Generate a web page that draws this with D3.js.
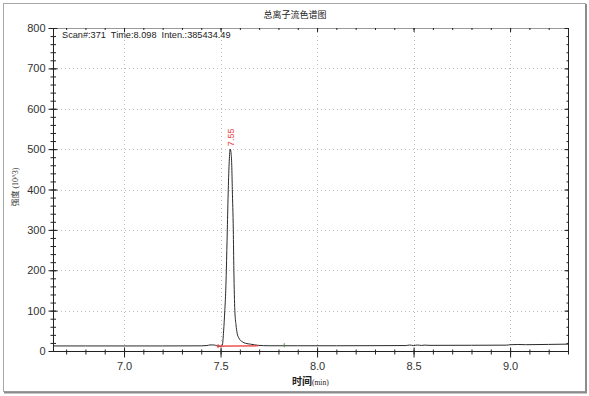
<!DOCTYPE html>
<html lang="zh">
<head>
<meta charset="utf-8">
<title>总离子流色谱图</title>
<script src="https://cdn.jsdelivr.net/npm/d3@7"></script>
<style>
    body {
        margin: 0;
        background: #ffffff;
    }
    svg text {
        font-family: Arial, "Liberation Sans", sans-serif;
        fill: #333;
    }
    .cjk {
        font-family: "Noto Sans CJK SC", sans-serif;
    }
</style>
</head>
<body>
<svg id="canvas" width="589" height="396"></svg>
<script>
    // chromatogram: time (min) and intensity (10^3)
    const times = [6.632, 6.8, 7.0, 7.2, 7.4, 7.43, 7.445, 7.46, 7.475, 7.487, 7.50, 7.509,
        7.516, 7.522, 7.527, 7.530, 7.535, 7.540, 7.545, 7.550, 7.554, 7.558, 7.561, 7.566,
        7.569, 7.574, 7.580, 7.586, 7.595, 7.612, 7.63, 7.655, 7.695, 7.75, 7.9, 8.1, 8.3,
        8.46, 8.48, 8.50, 8.52, 8.54, 8.56, 8.58, 8.8, 8.98, 9.0, 9.04, 9.08, 9.2, 9.3]
    const intensity = [12.5, 12.5, 12.5, 12.5, 12.8, 13.5, 15, 15, 14, 12, 12, 14,
        50, 100, 150, 200, 300, 400, 470, 500, 492, 460, 400, 300,
        200, 100, 65, 44, 32, 23, 19, 17, 14, 13, 13, 13, 13.2,
        13.5, 14.8, 13.5, 14.8, 13.8, 14.6, 14, 14.2, 14.5, 15.5, 16.2, 15.6, 16.3, 17]

    const peakLabel = "7.55"
    const peakTime = 7.552
    const peakValue = 500
    const integration = [[7.487, 12], [7.697, 13]]   // red baseline under the peak
    const markerTime = 7.83                          // green marker

    const xDomain = [6.632, 9.30]
    const yDomain = [0, 800]
    const xMajor = [7.0, 7.5, 8.0, 8.5, 9.0]
    const xMinor = d3.range(67, 94).map(d => d / 10)
    const yMajor = [0, 100, 200, 300, 400, 500, 600, 700, 800]
    const yMinor = d3.range(0, 801, 20)

    const title = "总离子流色谱图"
    const info = "Scan#:371  Time:8.098  Inten.:385434.49"

    const svg = d3.select('#canvas')
    const pLeft = 53, pRight = 568, pTop = 28, pBottom = 351

    const x = d3.scaleLinear().domain(xDomain).range([pLeft, pRight])
    const y = d3.scaleLinear().domain(yDomain).range([pBottom, pTop])

    // outer frame with a little shadow on right / bottom
    svg.append('rect')
        .attr('x', 3.5).attr('y', 3.5).attr('width', 582).attr('height', 388)
        .attr('fill', 'none').attr('stroke', '#a8a8a8')
    svg.append('path')
        .attr('d', 'M586,4V392.5H4')
        .attr('fill', 'none').attr('stroke', '#8c8c8c').attr('stroke-width', 2)

    // dotted grid
    const grid = svg.append('g').attr('stroke', '#bdbdbd').attr('stroke-dasharray', '1,3')
    grid.selectAll('.gx').data(xMajor).join('line')
        .attr('x1', d => Math.round(x(d)) + 0.5).attr('x2', d => Math.round(x(d)) + 0.5)
        .attr('y1', pTop).attr('y2', pBottom)
    grid.selectAll('.gy').data(yMajor.filter(d => d > 0 && d < 800)).join('line')
        .attr('y1', d => Math.round(y(d)) + 0.5).attr('y2', d => Math.round(y(d)) + 0.5)
        .attr('x1', pLeft).attr('x2', pRight)

    // top border (light)
    svg.append('line').attr('x1', pLeft).attr('x2', pRight).attr('y1', pTop + 0.5).attr('y2', pTop + 0.5)
        .attr('stroke', '#9a9a9a')

    function cleanAxis(g) {
        g.select('.domain').remove()
        g.selectAll('.tick line').attr('stroke', '#222')
    }

    // bottom axis: major + minor ticks crossing the line
    const xAxisMinor = svg.append('g').attr('transform', `translate(0,${pBottom + 0.5})`)
        .call(d3.axisBottom(x).tickValues(xMinor).tickSize(3).tickFormat(''))
    xAxisMinor.call(cleanAxis)
    xAxisMinor.selectAll('.tick line').attr('y1', -2)

    const xAxis = svg.append('g').attr('transform', `translate(0,${pBottom + 0.5})`)
        .call(d3.axisBottom(x).tickValues(xMajor).tickSize(6).tickPadding(5).tickFormat(d3.format('.1f')))
    xAxis.call(cleanAxis)
    xAxis.selectAll('.tick line').attr('y1', -4)
    xAxis.selectAll('.tick text').attr('font-size', 11).attr('fill', '#333')

    // top ticks pointing down
    const xTopMinor = svg.append('g').attr('transform', `translate(0,${pTop})`)
        .call(d3.axisBottom(x).tickValues(xMinor).tickSize(2).tickFormat(''))
    xTopMinor.call(cleanAxis)
    const xTop = svg.append('g').attr('transform', `translate(0,${pTop})`)
        .call(d3.axisBottom(x).tickValues(xMajor).tickSize(4).tickFormat(''))
    xTop.call(cleanAxis)

    // left axis
    const yAxisMinor = svg.append('g').attr('transform', `translate(${pLeft + 0.5},0)`)
        .call(d3.axisLeft(y).tickValues(yMinor).tickSize(3).tickFormat(''))
    yAxisMinor.call(cleanAxis)
    yAxisMinor.selectAll('.tick line').attr('x1', 2.5)

    const yAxis = svg.append('g').attr('transform', `translate(${pLeft + 0.5},0)`)
        .call(d3.axisLeft(y).tickValues(yMajor).tickSize(5).tickPadding(3).tickFormat(d3.format('d')))
    yAxis.call(cleanAxis)
    yAxis.selectAll('.tick line').attr('x1', 4)
    yAxis.selectAll('.tick text').attr('font-size', 11).attr('fill', '#333')

    // right axis, ticks inward
    const yRightMinor = svg.append('g').attr('transform', `translate(${pRight + 0.5},0)`)
        .call(d3.axisLeft(y).tickValues(yMinor).tickSize(2).tickFormat(''))
    yRightMinor.call(cleanAxis)
    const yRight = svg.append('g').attr('transform', `translate(${pRight + 0.5},0)`)
        .call(d3.axisLeft(y).tickValues(yMajor).tickSize(4).tickFormat(''))
    yRight.call(cleanAxis)

    svg.append('line').attr('x1', pLeft + 0.5).attr('x2', pLeft + 0.5).attr('y1', pTop).attr('y2', pBottom + 1)
        .attr('stroke', '#222')
    svg.append('line').attr('x1', pRight + 0.5).attr('x2', pRight + 0.5).attr('y1', pTop).attr('y2', pBottom + 1)
        .attr('stroke', '#222')
    svg.append('line').attr('x1', pLeft).attr('x2', pRight + 1).attr('y1', pBottom + 0.5).attr('y2', pBottom + 0.5)
        .attr('stroke', '#222')

    // chromatogram trace
    const points = times.map((t, i) => [t, intensity[i]])
    const line = d3.line().x(d => x(d[0])).y(d => y(d[1])).curve(d3.curveMonotoneX)
    svg.append('path')
        .datum(points)
        .attr('d', line)
        .attr('fill', 'none')
        .attr('stroke', '#2a2a2a')
        .attr('stroke-width', 1)

    // integration baseline and markers
    svg.append('path')
        .datum(integration)
        .attr('d', d3.line().x(d => x(d[0])).y(d => y(d[1])))
        .attr('stroke', '#ee3030')
        .attr('stroke-width', 1.2)
    svg.append('line')
        .attr('x1', x(integration[0][0])).attr('x2', x(integration[0][0]))
        .attr('y1', y(integration[0][1]) - 2).attr('y2', y(integration[0][1]) + 2)
        .attr('stroke', '#ee3030')
    svg.append('line')
        .attr('x1', x(markerTime)).attr('x2', x(markerTime))
        .attr('y1', y(13) - 2.5).attr('y2', y(13) + 1.5)
        .attr('stroke', '#3a9a3a')

    // peak label
    svg.append('text')
        .attr('transform', `translate(${x(peakTime) + 3},${y(peakValue) - 3}) rotate(-90)`)
        .attr('font-size', 9)
        .style('fill', '#ee3a3a')
        .text(peakLabel)

    // title and info
    svg.append('text')
        .attr('class', 'cjk')
        .attr('x', 295).attr('y', 18)
        .attr('text-anchor', 'middle')
        .attr('font-size', 9)
        .style('fill', '#222')
        .text(title)
    svg.append('text')
        .attr('x', 62).attr('y', 38)
        .attr('font-size', 9.2)
        .style('fill', '#222')
        .attr('xml:space', 'preserve')
        .text(info)

    // axis titles
    const yTitle = svg.append('text')
        .attr('transform', 'translate(18,187) rotate(-90)')
        .attr('text-anchor', 'middle')
        .attr('font-size', 8)
        .style('fill', '#333')
    yTitle.append('tspan').attr('class', 'cjk').text('强度')
    yTitle.append('tspan').style('font-family', '"Liberation Serif", serif').text(' (10^3)')

    const xTitle = svg.append('text')
        .attr('x', 292).attr('y', 385)
        .style('fill', '#222')
    xTitle.append('tspan').attr('class', 'cjk').attr('font-size', 10).attr('font-weight', 'bold').text('时间')
    xTitle.append('tspan').style('font-family', '"Liberation Serif", serif').attr('font-size', 7.5).text('(min)')
</script>
</body>
</html>
